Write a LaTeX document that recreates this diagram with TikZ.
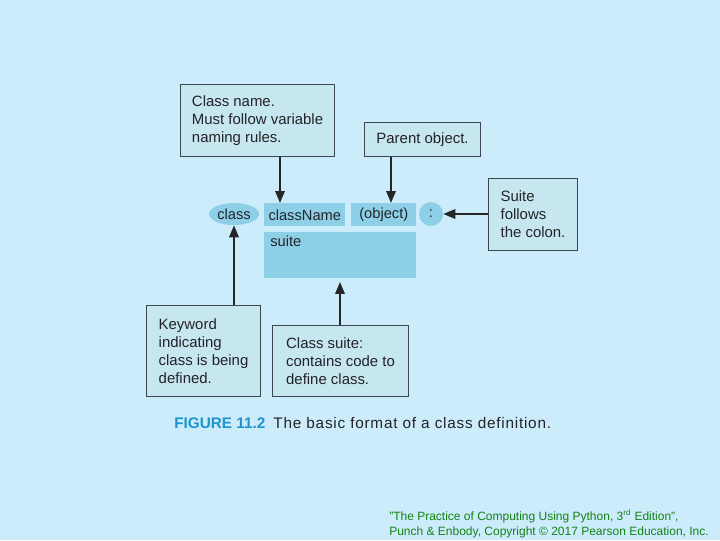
\documentclass[tikz,border=0pt]{standalone}
\usepackage{fontspec}
\setmainfont{Liberation Sans}
\newfontfamily\capfont[LetterSpace=5]{Liberation Sans}
\usetikzlibrary{arrows.meta,shapes.geometric}
\definecolor{bgblue}{RGB}{204,236,252}
\definecolor{notefill}{RGB}{198,230,240}
\definecolor{noteline}{RGB}{60,70,80}
\definecolor{tokfill}{RGB}{142,207,232}
\definecolor{txt}{RGB}{35,35,40}
\definecolor{capblue}{RGB}{30,150,205}
\definecolor{credit}{RGB}{20,130,20}
\tikzset{
  note/.style={draw=noteline, line width=0.8pt, fill=notefill, anchor=north west,
    align=left, inner sep=0pt, font=\fontsize{11.2}{13.5}\selectfont,
    text=txt},
  token/.style={fill=tokfill, inner sep=0pt, font=\fontsize{11}{12}\selectfont, text=txt},
  pointer/.style={line width=1.6pt, draw=black!85, -{Triangle[length=9pt,width=7pt]}}
}
\begin{document}
\begin{tikzpicture}[x=0.75pt,y=-0.75pt]
\fill[bgblue] (0,0) rectangle (720,540);
\useasboundingbox (0,0) rectangle (720,540);

% syntax tokens
\node[token, ellipse, minimum width=37.5pt, minimum height=16.5pt] (kw) at (234,214) {class};
\node[token, minimum width=60.75pt, minimum height=17.25pt, anchor=north west] (cname) at (264,203) {className};
\node[token, minimum width=48.75pt, minimum height=17.25pt, anchor=north west] (obj) at (351,203) {(object)};
\node[token, circle, minimum size=18pt] (colon) at (431,214) {:};
\node[token, minimum width=114pt, minimum height=34.5pt, anchor=north west] (suite) at (264,232) {};
\node[token, anchor=north west, fill=none] at (270,236) {suite};

% annotation boxes
\node[note, minimum width=115.5pt, minimum height=54pt] (nname) at (180,84)
  {Class name.\\Must follow variable\\naming rules.};
\node[note, minimum width=87pt, minimum height=25.5pt] (nparent) at (364,122)
  {Parent object.};
\node[note, minimum width=66.75pt, minimum height=54pt] (ncolon) at (488,178)
  {Suite\\follows\\the colon.};
\node[note, minimum width=85.5pt, minimum height=68.25pt] (nkw) at (146,305)
  {Keyword\\indicating\\class is being\\defined.};
\node[note, minimum width=102pt, minimum height=53.25pt] (nsuite) at (272,325)
  {Class suite:\\contains code to\\define class.};

% pointers
\draw[pointer] (nname.south -| 280,0) -- (cname.north -| 280,0);
\draw[pointer] (nparent.south -| 391,0) -- (obj.north -| 391,0);
\draw[pointer] (ncolon.west |- colon) -- (colon.east);
\draw[pointer] (nkw.north -| kw) -- (kw.south);
\draw[pointer] (nsuite.north -| 340,0) -- ([yshift=-2.5pt]suite.south -| 340,0);

% caption
\node[anchor=base west, inner sep=0pt, font=\fontsize{11.5}{14}\selectfont] (cap) at (174,428)
  {\textcolor{capblue}{\bfseries FIGURE 11.2}\hspace{6pt}\textcolor{txt}{\capfont The basic format of a class definition.}};

% credit line
\node[anchor=north west, inner sep=0pt, align=left, text=credit,
  font=\fontsize{9}{11.25}\selectfont] (credit) at (389,509)
  {"The Practice of Computing Using Python, 3\textsuperscript{rd} Edition",\\
   Punch \& Enbody, Copyright \textcopyright{} 2017 Pearson Education, Inc.};
\end{tikzpicture}
\end{document}
